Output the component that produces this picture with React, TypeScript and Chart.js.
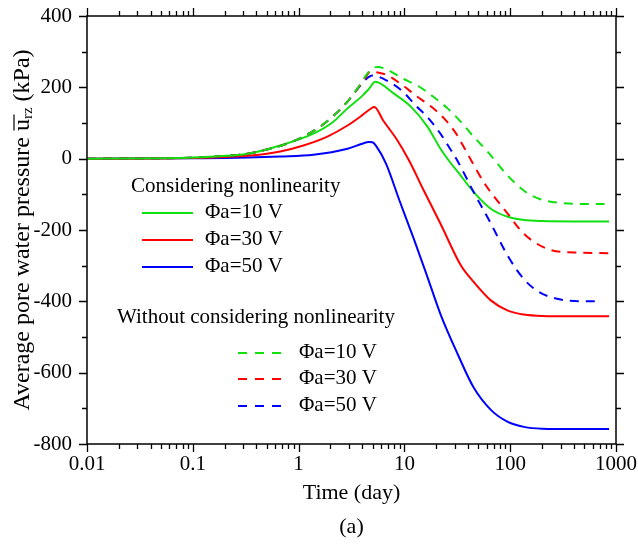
import React, { useEffect, useRef } from 'react';
import { Chart, registerables } from 'chart.js';

Chart.register(...registerables);

// ---------- data ----------
const xTickValues = [0.01, 0.1, 1, 10, 100, 1000];
const xTickLabels = ['0.01', '0.1', '1', '10', '100', '1000'];
const yMin = -800;
const yMax = 400;
const yStep = 200;

const seriesLabels = ['Φa=10 V', 'Φa=30 V', 'Φa=50 V'];
const seriesColors = ['#10e010', '#ff0000', '#0000ff'];

// Considering nonlinearity (solid)
const timeG1 = [0.01, 0.05, 0.1, 0.16, 0.33, 0.67, 1.38, 2.1, 2.9, 4.0, 4.6, 5.3, 7.9, 11.5, 16.5, 22, 27, 32, 45, 66, 95, 135, 200, 400, 860];
const valG1 = [0, 1, 3, 6, 14, 37, 70, 102, 141, 176, 195, 216, 183, 146, 90, 27, -10, -37, -93, -141, -163, -172, -175, -176, -176];

const timeR1 = [0.01, 0.05, 0.1, 0.33, 0.67, 1.11, 1.87, 2.9, 4.0, 4.8, 5.2, 6.3, 8.6, 11.1, 15, 22, 34, 45, 66, 95, 135, 200, 400, 860];
const valR1 = [0, 0.5, 2, 8, 20, 37, 62, 93, 122, 140, 145, 107, 51, -6, -85, -183, -298, -345, -398, -426, -437, -441, -442, -442];

const timeB1 = [0.01, 0.1, 0.33, 0.67, 1.38, 2.9, 4.0, 4.6, 5.0, 5.4, 6.7, 9, 12.2, 16, 22, 32, 45, 66, 95, 135, 200, 400, 860];
const valB1 = [0, 1, 3, 6, 11, 28, 42, 47, 46, 36, -14, -118, -223, -320, -437, -549, -641, -705, -738, -752, -757, -758, -758];

// Without considering nonlinearity (dashed)
const timeG2 = [0.01, 0.05, 0.1, 0.16, 0.33, 0.54, 0.78, 1.11, 1.6, 2.1, 2.9, 3.6, 4.3, 4.9, 5.6, 6.6, 9.6, 13.6, 18.5, 25.6, 34, 45, 61, 95, 135, 190, 300, 500, 780];
const valG2 = [0, 1, 3, 6, 14, 28, 42, 62, 90, 118, 160, 197, 232, 252, 257, 252, 225, 203, 175, 141, 104, 62, 20, -48, -90, -113, -124, -127, -127];

const timeR2 = [0.01, 0.05, 0.1, 0.16, 0.33, 0.54, 0.78, 1.11, 1.6, 2.1, 2.9, 3.6, 4.3, 4.8, 5.3, 6.9, 9.6, 12.8, 17.9, 23.7, 30.9, 38, 56, 95, 135, 225, 400, 860];
const valR2 = [0, 1, 3, 6, 14, 28, 42, 62, 90, 118, 160, 196, 228, 245, 243, 234, 206, 177, 146, 113, 70, 23, -65, -155, -211, -253, -263, -265];

const timeB2 = [0.01, 0.05, 0.1, 0.16, 0.33, 0.54, 0.78, 1.11, 1.6, 2.1, 2.9, 3.6, 4.3, 5.0, 7.0, 9.6, 12.8, 16.9, 21.9, 27, 32, 45, 66, 95, 135, 190, 300, 500, 700];
const valB2 = [0, 1, 3, 6, 14, 28, 42, 62, 90, 118, 160, 195, 222, 233, 217, 189, 149, 113, 70, 28, -8, -93, -183, -273, -338, -375, -395, -400, -400];

const legendTitle1 = 'Considering nonlinearity';
const legendTitle2 = 'Without considering nonlinearity';
const xTitle = ['Time (day)', '(a)'];

// ---------- helpers ----------
const FONT = '"Liberation Serif", "Times New Roman", serif';
const zip = (t: number[], v: number[]) => t.map((x, i) => ({ x, y: v[i] }));

const framePlugin = {
  id: 'frameTicks',
  afterDraw(chart: any) {
    const { ctx, chartArea, scales } = chart;
    const { left, right, top, bottom } = chartArea;
    const xs = scales.x;
    const ys = scales.y;
    ctx.save();
    ctx.strokeStyle = '#000';
    ctx.lineWidth = 1.5;
    ctx.strokeRect(left, top, right - left, bottom - top);
    ctx.lineWidth = 1.3;
    ctx.beginPath();
    for (let e = -2; e <= 3; e++) {
      for (let k = 1; k <= 9; k++) {
        const v = k * Math.pow(10, e);
        if (v > 1000 * 1.0001) break;
        const px = Math.round(xs.getPixelForValue(v)) + 0.5;
        const len = k === 1 ? 8 : 5;
        ctx.moveTo(px, bottom);
        ctx.lineTo(px, bottom + len);
        ctx.moveTo(px, top);
        ctx.lineTo(px, top - len);
      }
    }
    for (let v = yMin; v <= yMax; v += yStep / 2) {
      const py = Math.round(ys.getPixelForValue(v)) + 0.5;
      const len = v % yStep === 0 ? 8 : 5;
      ctx.moveTo(left, py);
      ctx.lineTo(left - len, py);
      ctx.moveTo(right, py);
      ctx.lineTo(right + len, py);
    }
    ctx.stroke();

    // y axis title (rotated), with overlined u and subscript rz
    const cy = (top + bottom) / 2;
    const big = `24px ${FONT}`;
    const small = `15px ${FONT}`;
    const p1 = 'Average pore water pressure ';
    const pu = 'u';
    const prz = 'rz';
    const p3 = ' (kPa)';
    ctx.font = big;
    const w1 = ctx.measureText(p1).width;
    const wu = ctx.measureText(pu).width;
    const w3 = ctx.measureText(p3).width;
    ctx.font = small;
    const wrz = ctx.measureText(prz).width;
    const total = w1 + wu + wrz + w3;
    ctx.translate(29, cy);
    ctx.rotate(-Math.PI / 2);
    ctx.fillStyle = '#000';
    ctx.textBaseline = 'alphabetic';
    ctx.textAlign = 'left';
    let x0 = -total / 2;
    ctx.font = big;
    ctx.fillText(p1, x0, 0);
    x0 += w1;
    ctx.fillText(pu, x0, 0);
    ctx.lineWidth = 1.2;
    ctx.beginPath();
    ctx.moveTo(x0 + 0.5, -15);
    ctx.lineTo(x0 + wu + wrz * 0.4, -15);
    ctx.stroke();
    x0 += wu;
    ctx.font = small;
    ctx.fillText(prz, x0, 3);
    x0 += wrz;
    ctx.font = big;
    ctx.fillText(p3, x0, 0);
    ctx.restore();
  },
};

const legendPlugin = {
  id: 'customLegend',
  afterDraw(chart: any) {
    const { ctx } = chart;
    ctx.save();
    ctx.font = `21px ${FONT}`;
    ctx.fillStyle = '#000';
    ctx.textBaseline = 'middle';
    ctx.textAlign = 'left';
    ctx.fillText(legendTitle1, 131, 186);
    const rows1 = [212, 239, 266];
    const rows2 = [352, 378, 405];
    ctx.lineWidth = 2;
    seriesLabels.forEach((lab, i) => {
      ctx.strokeStyle = seriesColors[i];
      ctx.setLineDash([]);
      ctx.beginPath();
      ctx.moveTo(142, rows1[i] + 1);
      ctx.lineTo(193, rows1[i] + 1);
      ctx.stroke();
      ctx.fillText(lab, 205, rows1[i]);
    });
    ctx.fillText(legendTitle2, 117, 317);
    seriesLabels.forEach((lab, i) => {
      ctx.strokeStyle = seriesColors[i];
      ctx.setLineDash([9, 8]);
      ctx.beginPath();
      ctx.moveTo(238, rows2[i] + 1);
      ctx.lineTo(286, rows2[i] + 1);
      ctx.stroke();
      ctx.setLineDash([]);
      ctx.fillText(lab, 299, rows2[i]);
    });
    ctx.restore();
  },
};

export default function App() {
  const canvasRef = useRef<HTMLCanvasElement | null>(null);

  useEffect(() => {
    if (!canvasRef.current) return;
    const solid = (label: string, t: number[], v: number[], c: string) => ({
      label,
      data: zip(t, v),
      borderColor: c,
      backgroundColor: c,
      borderWidth: 2,
      pointRadius: 0,
      fill: false,
      cubicInterpolationMode: 'monotone' as const,
    });
    const dashed = (label: string, t: number[], v: number[], c: string) => ({
      ...solid(label, t, v, c),
      borderDash: [9, 7],
    });
    const chart = new Chart(canvasRef.current, {
      type: 'line',
      data: {
        datasets: [
          dashed(seriesLabels[0] + ' (linear)', timeG2, valG2, seriesColors[0]),
          dashed(seriesLabels[1] + ' (linear)', timeR2, valR2, seriesColors[1]),
          dashed(seriesLabels[2] + ' (linear)', timeB2, valB2, seriesColors[2]),
          solid(seriesLabels[0], timeG1, valG1, seriesColors[0]),
          solid(seriesLabels[1], timeR1, valR1, seriesColors[1]),
          solid(seriesLabels[2], timeB1, valB1, seriesColors[2]),
        ],
      },
      options: {
        animation: false,
        responsive: false,
        devicePixelRatio: 1,
        layout: { padding: { top: 16, right: 22, left: 0, bottom: 0 } },
        plugins: {
          legend: { display: false },
          tooltip: { enabled: false },
          title: { display: false },
        },
        scales: {
          x: {
            type: 'logarithmic',
            position: 'bottom',
            min: 0.01,
            max: 1000,
            grid: { display: false, drawTicks: false },
            border: { display: false },
            afterBuildTicks: (s: any) => {
              s.ticks = xTickValues.map((v) => ({ value: v }));
            },
            afterFit: (s: any) => {
              s.height = 103;
              s.paddingLeft = 0;
              s.paddingRight = 0;
            },
            ticks: {
              autoSkip: false,
              maxRotation: 0,
              padding: 8,
              color: '#000',
              font: { family: FONT, size: 21 },
              callback: (v: any) => {
                const i = xTickValues.findIndex((tv) => Math.abs(tv - Number(v)) / tv < 1e-6);
                return i >= 0 ? xTickLabels[i] : '';
              },
            },
            title: {
              display: true,
              text: xTitle,
              color: '#000',
              font: { family: FONT, size: 22, lineHeight: 1.55 },
              padding: { top: 0, bottom: 3 },
            },
          },
          y: {
            type: 'linear',
            min: yMin,
            max: yMax,
            grid: { display: false, drawTicks: false },
            border: { display: false },
            afterFit: (s: any) => {
              s.width = 87;
              s.paddingTop = 0;
              s.paddingBottom = 0;
            },
            ticks: {
              stepSize: yStep,
              padding: 15,
              color: '#000',
              font: { family: FONT, size: 21 },
              callback: (v: any) => String(v),
            },
          },
        },
      },
      plugins: [framePlugin, legendPlugin],
    });
    return () => chart.destroy();
  }, []);

  return (
    <div style={{ position: 'fixed', left: 0, top: 0, width: 638, height: 547, background: '#fff' }}>
      <canvas ref={canvasRef} width={638} height={547} style={{ display: 'block' }} />
    </div>
  );
}
